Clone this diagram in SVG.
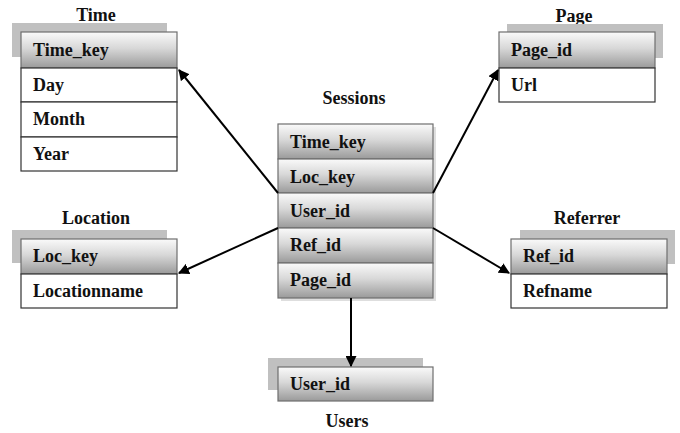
<svg xmlns="http://www.w3.org/2000/svg" width="680" height="433" viewBox="0 0 680 433">
<style>
.title{text-anchor:middle}
.sh{fill:#c0c0c0}
.hd{fill:url(#g);stroke:#6e6e6e;stroke-width:1.2}
.row{fill:#fff;stroke:#333;stroke-width:1.2}
.con{stroke:#000;stroke-width:2;fill:none;marker-end:url(#ah)}
</style>
<defs>
<linearGradient id="g" x1="0" y1="0" x2="0" y2="1">
<stop offset="0" stop-color="#fafafa"/>
<stop offset="0.45" stop-color="#d8d8d8"/>
<stop offset="1" stop-color="#9a9a9a"/>
</linearGradient>
<marker id="ah" viewBox="0 0 10 10" refX="9" refY="5" markerWidth="5.5" markerHeight="5.5" orient="auto" markerUnits="strokeWidth">
<path d="M0,0 L10,5 L0,10 z" fill="#000"/>
</marker>
</defs>
<g font-family="Liberation Serif, Times New Roman, serif" font-weight="bold" font-size="18" fill="#111">

<g id="time">
<text class="title" x="96" y="21">Time</text>
<rect class="sh" x="12" y="23" width="155" height="34"/>
<rect class="hd" x="21" y="32" width="156" height="36"/>
<rect class="row" x="21" y="68" width="156" height="34"/>
<rect class="row" x="21" y="102" width="156" height="35"/>
<rect class="row" x="21" y="137" width="156" height="34"/>
<text x="33" y="56">Time_key</text>
<text x="33" y="91">Day</text>
<text x="33" y="125">Month</text>
<text x="33" y="160">Year</text>
</g>

<g id="page">
<text class="title" x="574" y="22">Page</text>
<rect class="sh" x="507" y="24" width="156" height="34"/>
<rect class="hd" x="499" y="32" width="156" height="36"/>
<rect class="row" x="499" y="68" width="156" height="34"/>
<text x="511" y="56">Page_id</text>
<text x="511" y="91">Url</text>
</g>

<g id="sessions">
<text class="title" x="354" y="104">Sessions</text>
<rect x="281" y="127" width="155" height="174" fill="#c8c8c8" opacity="0.6"/>
<rect class="hd" x="278" y="124" width="155" height="35"/>
<rect class="hd" x="278" y="159" width="155" height="34"/>
<rect class="hd" x="278" y="193" width="155" height="35"/>
<rect class="hd" x="278" y="228" width="155" height="35"/>
<rect class="hd" x="278" y="263" width="155" height="35"/>
<text x="290" y="148">Time_key</text>
<text x="290" y="183">Loc_key</text>
<text x="290" y="217">User_id</text>
<text x="290" y="251">Ref_id</text>
<text x="290" y="286">Page_id</text>
</g>

<g id="location">
<text class="title" x="96" y="224">Location</text>
<rect class="sh" x="12" y="230" width="155" height="33"/>
<rect class="hd" x="21" y="239" width="156" height="35"/>
<rect class="row" x="21" y="274" width="156" height="34"/>
<text x="33" y="262">Loc_key</text>
<text x="33" y="297">Locationname</text>
</g>

<g id="referrer">
<text class="title" x="587" y="224">Referrer</text>
<rect class="sh" x="520" y="230" width="155" height="34"/>
<rect class="hd" x="511" y="239" width="156" height="35"/>
<rect class="row" x="511" y="274" width="156" height="34"/>
<text x="523" y="262">Ref_id</text>
<text x="523" y="297">Refname</text>
</g>

<g id="users">
<rect class="sh" x="268" y="358" width="155" height="32"/>
<rect class="hd" x="278" y="367" width="155" height="34"/>
<text x="290" y="390">User_id</text>
<text class="title" x="347" y="427">Users</text>
</g>

</g>
<g id="connectors">
<line class="con" x1="278" y1="193" x2="179" y2="70"/>
<line class="con" x1="278" y1="228" x2="179" y2="273"/>
<line class="con" x1="433" y1="193" x2="498" y2="70"/>
<line class="con" x1="433" y1="228" x2="509" y2="273"/>
<line class="con" x1="351" y1="298" x2="351" y2="366"/>
</g>
</svg>
